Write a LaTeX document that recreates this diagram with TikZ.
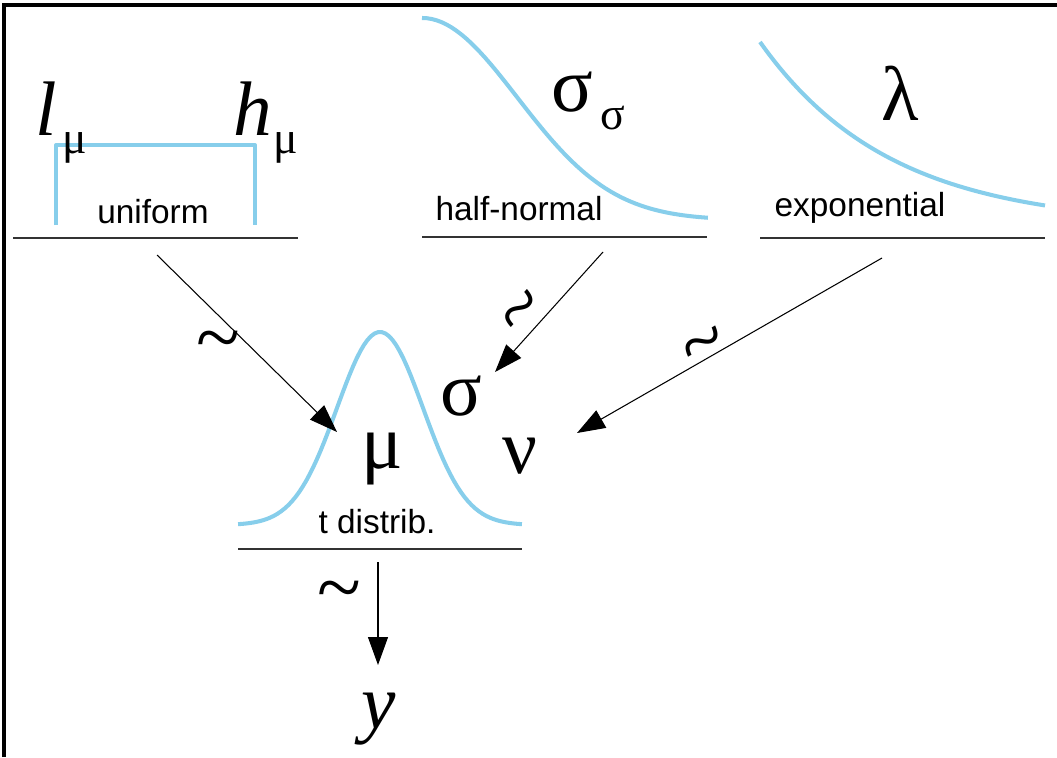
\documentclass[tikz,border=0pt]{standalone}
\usepackage{fontspec}
\setmainfont{Liberation Serif}
\newfontfamily\labfont{Liberation Sans}
\usetikzlibrary{arrows.meta}
\definecolor{densblue}{RGB}{135,206,235}

\begin{document}
\begin{tikzpicture}[x=0.02cm,y=-0.02cm,
  dens/.style={densblue,line width=2.3pt,line join=round},
  base/.style={line width=1.3pt,black!80},
  arr/.style={line width=0.6pt,-{Triangle[length=0.56cm,width=0.4cm]}},
  prm/.style={anchor=base,inner sep=0pt,font=\fontsize{44}{48}\selectfont},
  sub/.style={anchor=base,inner sep=0pt,font=\fontsize{26}{28}\selectfont},
  lab/.style={anchor=base,inner sep=0pt,font=\labfont\fontsize{19}{22}\selectfont},
  tl/.style={inner sep=0pt,font=\fontsize{46}{48}\selectfont}]
  \useasboundingbox (0,0) rectangle (1057,757);
  \draw[line width=1.8pt] (4,757) -- (4,5) -- (1057,5);
  % uniform prior
  \draw[dens] (56,225) -- (56,145) -- (255,145) -- (255,225);
  \draw[base] (13,238) -- (298,238);
  \node[lab] (uni) at (153,223) {uniform};
  \node[prm] (l) at (46,135) {\itshape l};
  \node[sub] (lsub) at (75,153) {μ};
  \node[prm] (h) at (253,135) {\itshape h};
  \node[sub] (hsub) at (286,153) {μ};
  % half-normal prior
  \draw[dens] plot[domain=0:3,samples=60] ({422+95.3*\x},{220-202*exp(-0.5*(\x)*(\x))});
  \draw[base] (422,237) -- (707,237);
  \node[lab] (hn) at (519,220) {half-normal};
  \node[prm] (ss) at (572,112) {σ};
  \node[sub] (sssub) at (613,130) {σ};
  % exponential prior
  \draw[dens] plot[domain=760:1045,samples=60] ({\x},{226-184*exp(-(\x-760)/130)});
  \draw[base] (760,238) -- (1045,238);
  \node[lab] (ex) at (860,216) {exponential};
  \node[prm] (lam) at (900,120) {λ};
  % t likelihood
  \draw[dens] plot[domain=-3.3:3.3,samples=80] ({380+43*\x},{525-193*exp(-0.5*(\x)*(\x))});
  \draw[base] (238,549) -- (522,549);
  \node[lab] (td) at (377,533) {t distrib.};
  \node[prm] (mu) at (382,468) {μ};
  \node[prm] (sig) at (461,415) {σ};
  \node[prm] (nu) at (520,473) {ν};
  \node[prm] (y) at (379,728) {\itshape y};
  % arrows
  \coordinate (uni-out) at (157,255); \coordinate (mu-in) at (337,432);
  \coordinate (hn-out) at (603,252);  \coordinate (sig-in) at (495,372);
  \coordinate (ex-out) at (882,258);  \coordinate (nu-in) at (577,433);
  \coordinate (td-out) at (378,562);  \coordinate (y-in) at (378,665);
  \draw[arr] (uni-out) -- (mu-in);
  \draw[arr] (hn-out) -- (sig-in);
  \draw[arr] (ex-out) -- (nu-in);
  \draw[arr] (td-out) -- (y-in);
  \node[tl] (t1) at (218,348) {\textasciitilde};
  \node[tl,rotate=48] (t2) at (527,315) {\textasciitilde};
  \node[tl,rotate=30] (t3) at (707,350) {\textasciitilde};
  \node[tl] (t4) at (339,598) {\textasciitilde};
\end{tikzpicture}
\end{document}
